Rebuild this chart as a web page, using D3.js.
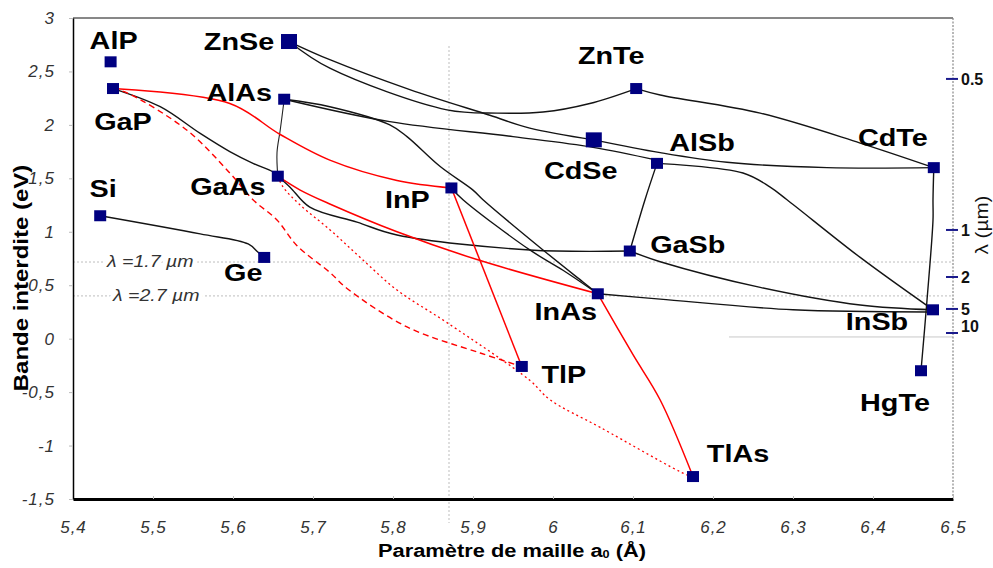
<!DOCTYPE html>
<html><head><meta charset="utf-8">
<script src="https://cdn.jsdelivr.net/npm/d3@7"></script>
<style>
body{margin:0;background:#fff;}
svg{display:block;font-family:"Liberation Sans",Arial,sans-serif;}
</style>
</head><body>
<svg id="chart" width="993" height="568"></svg>
<script>
// ---------- DATA ----------
const compounds = ["AlP","GaP","ZnSe","AlAs","GaAs","Si","Ge","InP","TlP","InAs","TlAs","ZnTe","CdSe","AlSb","GaSb","CdTe","InSb","HgTe"];
const latticeA  = [5.447,5.450,5.670,5.664,5.656,5.434,5.639,5.873,5.961,6.056,6.175,6.104,6.051,6.130,6.096,6.476,6.475,6.460];
const bandGap   = [2.59,2.34,2.78,2.24,1.52,1.15,0.76,1.41,-0.26,0.42,-1.29,2.34,1.86,1.64,0.82,1.60,0.27,-0.30];

const xTicks = [5.4,5.5,5.6,5.7,5.8,5.9,6.0,6.1,6.2,6.3,6.4,6.5];
const yTicks = [-1.5,-1,-0.5,0,0.5,1,1.5,2,2.5,3];

const lambdaLabels = ["0.5","1","2","5","10"];
const lambdaGap    = [2.43,1.017,0.577,0.278,0.053];

const refLabels = ["\u03bb =1.7 \u00b5m","\u03bb =2.7 \u00b5m"];
const refGap    = [0.717,0.40];
const refA      = 5.87;
const tenMicronGap = 0.016, tenMicronFrom = 6.22;

// curves: [lattice, gap] points
const SiGe    = [[5.434,1.15],[5.559,0.98],[5.619,0.886],[5.631,0.81],[5.639,0.76]];
const GaPGaAs = [[5.450,2.34],[5.509,2.17],[5.559,1.92],[5.596,1.75],[5.625,1.64],[5.650,1.56],[5.656,1.52]];
const AlAsGaAs= [[5.664,2.24],[5.659,1.95],[5.655,1.74],[5.656,1.52]];
const GaPInP  = [[5.450,2.34],[5.596,2.20],[5.659,1.91],[5.721,1.67],[5.805,1.48],[5.873,1.41]];
const GaPTlP  = [[5.450,2.34],[5.4675,2.30],[5.5425,1.95],[5.596,1.55],[5.625,1.30],[5.655,1.11],[5.68,0.87],[5.721,0.62],[5.7425,0.47],[5.8175,0.11],[5.909,-0.134],[5.961,-0.26]];
const GaAsTlAs= [[5.656,1.52],[5.6625,1.42],[5.684,1.25],[5.721,1.02],[5.759,0.76],[5.805,0.455],[5.8675,0.15],[5.971,-0.39],[5.996,-0.57],[6.059,-0.83],[6.1675,-1.275],[6.175,-1.29]];
const GaAsInAs= [[5.656,1.52],[5.684,1.39],[5.721,1.26],[5.805,1.00],[5.905,0.74],[6.056,0.42]];
const GaAsGaSb= [[5.656,1.52],[5.671,1.42],[5.696,1.23],[5.755,1.09],[5.805,0.97],[5.971,0.83],[6.096,0.82]];
const InPTlP  = [[5.873,1.41],[5.961,-0.26]];
const InPInAs = [[5.873,1.41],[5.8875,1.30],[5.971,0.83],[6.0125,0.64],[6.056,0.42]];
const AlAsInAs= [[5.664,2.24],[5.721,2.17],[5.796,2.00],[5.8175,1.89],[5.859,1.61],[5.90,1.39],[5.9125,1.30],[5.9875,0.83],[6.0375,0.53],[6.056,0.42]];
const InAsTlAs= [[6.056,0.42],[6.10,-0.15],[6.134,-0.574],[6.175,-1.29]];
const InAsInSb= [[6.056,0.42],[6.134,0.37],[6.30,0.27],[6.475,0.25]];
const GaSbInSb= [[6.096,0.82],[6.134,0.72],[6.259,0.48],[6.384,0.315],[6.475,0.27]];
const AlSbGaSb= [[6.130,1.64],[6.115,1.30],[6.096,0.82]];
const AlSbInSb= [[6.130,1.64],[6.2375,1.55],[6.271,1.42],[6.2925,1.30],[6.384,0.76],[6.475,0.27]];
const AlAsAlSb= [[5.664,2.24],[5.796,2.03],[5.95,1.89],[6.05,1.79],[6.130,1.67]];
const CdSeCdTe= [[6.051,1.86],[6.134,1.74],[6.2175,1.65],[6.3425,1.60],[6.476,1.60]];
const ZnSeCdSe= [[5.670,2.78],[5.721,2.61],[5.821,2.33],[5.921,2.09],[5.971,1.97],[6.051,1.86]];
const ZnSeZnTe= [[5.670,2.78],[5.721,2.53],[5.8675,2.14],[5.93,2.11],[5.9875,2.12],[6.046,2.20],[6.104,2.34]];
const ZnTeCdTe= [[6.104,2.34],[6.134,2.28],[6.259,2.11],[6.384,1.83],[6.476,1.60]];
const CdTeHgTe= [[6.476,1.60],[6.475,1.30],[6.475,1.11],[6.4675,0.36],[6.460,-0.30]];

const curves = [
  {pts:SiGe,kind:"black"},{pts:GaPGaAs,kind:"black"},{pts:AlAsGaAs,kind:"thin"},
  {pts:GaAsGaSb,kind:"black"},{pts:InPInAs,kind:"black"},{pts:AlAsInAs,kind:"black"},
  {pts:InAsInSb,kind:"black"},{pts:GaSbInSb,kind:"black"},{pts:AlSbGaSb,kind:"black"},
  {pts:AlSbInSb,kind:"black"},{pts:AlAsAlSb,kind:"black"},{pts:CdSeCdTe,kind:"black"},
  {pts:ZnSeCdSe,kind:"black"},{pts:ZnSeZnTe,kind:"black"},{pts:ZnTeCdTe,kind:"black"},
  {pts:CdTeHgTe,kind:"black"},
  {pts:GaPInP,kind:"red"},{pts:GaAsInAs,kind:"red"},{pts:InPTlP,kind:"red"},{pts:InAsTlAs,kind:"red"},
  {pts:GaPTlP,kind:"reddash"},{pts:GaAsTlAs,kind:"reddot"}
];

// ---------- STYLE / LAYOUT ----------
const L=73,R=953,T=18,B=499;
const x = d3.scaleLinear().domain([5.4,6.5]).range([L,R]);
const y = d3.scaleLinear().domain([-1.5,3]).range([B,T]);
const svg = d3.select("#chart");
const fmt = d => String(+d.toFixed(2)).replace(".",",");

const labelOffset = {AlP:[3,-21],GaP:[10,33],ZnSe:[-50,0],AlAs:[-45,-7],GaAs:[-50,10],Si:[3,-27],Ge:[-21,15],
  InP:[-44,11],TlP:[42,8],InAs:[-32,18],TlAs:[45,-23],ZnTe:[-25,-33],CdSe:[-13,31],AlSb:[45,-21],
  GaSb:[58,-7],CdTe:[-41,-30],InSb:[-56,12],HgTe:[-26,32]};
const bigMarker = new Set(["ZnSe","CdSe"]);

// reference lines
const grid = svg.append("g").attr("stroke","#bdbdbd").attr("stroke-width",1).attr("fill","none");
refGap.forEach(g=>{
  grid.append("line").attr("x1",L).attr("x2",R).attr("y1",y(g)).attr("y2",y(g)).attr("stroke-dasharray","2,2");
});
grid.append("line").attr("x1",x(refA)).attr("x2",x(refA)).attr("y1",46).attr("y2",523).attr("stroke-dasharray","2,2");
grid.append("line").attr("x1",x(tenMicronFrom)).attr("x2",R).attr("y1",y(tenMicronGap)).attr("y2",y(tenMicronGap)).attr("stroke","#c8c8c8");

// ref labels
refLabels.forEach((t,i)=>{
  svg.append("text").attr("transform",`translate(${i===0?107:113},${y(refGap[i])+5}) scale(1.15,1)`)
    .attr("font-style","italic").attr("font-size",17).attr("fill","#333")
    .attr("stroke","#fff").attr("stroke-width",8).attr("paint-order","stroke")
    .text(t);
});

// frame
svg.append("line").attr("x1",L).attr("x2",R).attr("y1",T).attr("y2",T).attr("stroke","#111").attr("stroke-width",1);
svg.append("line").attr("x1",R).attr("x2",R).attr("y1",T).attr("y2",B).attr("stroke","#888").attr("stroke-dasharray","2,1.5").attr("stroke-width",1.2);

// axes
const xa = svg.append("g").attr("transform",`translate(0,${B})`)
  .call(d3.axisBottom(x).tickValues(xTicks).tickFormat(fmt).tickSizeInner(-3).tickSizeOuter(0).tickPadding(22));
xa.select(".domain").attr("stroke","#000").attr("stroke-width",3);
xa.selectAll(".tick line").attr("stroke","#bbb");
xa.selectAll("text").attr("font-size",17).attr("letter-spacing",1).attr("font-style","italic").attr("fill","#333").attr("font-family","Liberation Sans, Arial");

const ya = svg.append("g").attr("transform",`translate(${L},0)`)
  .call(d3.axisLeft(y).tickValues(yTicks).tickFormat(fmt).tickSizeInner(4).tickSizeOuter(0).tickPadding(14));
ya.select(".domain").attr("stroke","#000").attr("stroke-width",1.5);
ya.selectAll(".tick line").attr("stroke","#bbb");
ya.selectAll("text").attr("font-size",17).attr("letter-spacing",1).attr("font-style","italic").attr("fill","#333").attr("font-family","Liberation Sans, Arial");

// right wavelength axis
const ra = svg.append("g");
lambdaGap.forEach((g,i)=>{
  ra.append("line").attr("x1",R-7).attr("x2",R+5).attr("y1",y(g)).attr("y2",y(g)).attr("stroke","#1a1a8c").attr("stroke-width",2);
  ra.append("text").attr("x",R+8).attr("y",y(g)+(lambdaLabels[i]==="10"?-1:6))
    .attr("font-size",16).attr("font-weight","bold").attr("fill","#111").text(lambdaLabels[i]);
});
svg.append("text").attr("transform","translate(988,225) rotate(-90) scale(1.15,1)").attr("text-anchor","middle")
  .attr("font-size",18).attr("fill","#111").text("\u03bb (\u00b5m)");

// curves
const line = d3.line().x(d=>x(d[0])).y(d=>y(d[1])).curve(d3.curveCatmullRom.alpha(0.5));
const styles = {
  black:{stroke:"#141414",w:1.4,dash:null},
  thin:{stroke:"#222",w:1.1,dash:null},
  red:{stroke:"#f00",w:1.5,dash:null},
  reddash:{stroke:"#f00",w:1.4,dash:"6,4"},
  reddot:{stroke:"#f00",w:1.3,dash:"2,3"}
};
svg.append("g").selectAll("path").data(curves).join("path")
  .attr("d",d=>line(d.pts)).attr("fill","none")
  .attr("stroke",d=>styles[d.kind].stroke).attr("stroke-width",d=>styles[d.kind].w)
  .attr("stroke-dasharray",d=>styles[d.kind].dash);

// markers
const pts = compounds.map((n,i)=>({n,a:latticeA[i],g:bandGap[i]}));
svg.append("g").selectAll("rect").data(pts).join("rect")
  .attr("x",d=>x(d.a)-(bigMarker.has(d.n)?8:6)).attr("y",d=>y(d.g)-(bigMarker.has(d.n)?7.5:5.5))
  .attr("width",d=>bigMarker.has(d.n)?16:12).attr("height",d=>bigMarker.has(d.n)?15:11)
  .attr("fill","#000080");

// compound labels
svg.append("g").selectAll("text").data(pts).join("text")
  .attr("transform",d=>`translate(${x(d.a)+labelOffset[d.n][0]},${y(d.g)+labelOffset[d.n][1]}) scale(1.2,1)`)
  .attr("text-anchor","middle").attr("dy","0.36em")
  .attr("font-size",24).attr("font-weight","bold").attr("fill","#000").text(d=>d.n);

// axis titles
svg.append("text").attr("transform","translate(28,278) rotate(-90) scale(1.2,1)").attr("text-anchor","middle")
  .attr("font-size",20).attr("font-weight","bold").attr("fill","#000").text("Bande interdite (eV)");
const xt = svg.append("text").attr("transform","translate(512,557) scale(1.15,1)").attr("text-anchor","middle")
  .attr("font-size",19).attr("font-weight","bold").attr("fill","#000");
xt.append("tspan").text("Param\u00e8tre de maille a");
xt.append("tspan").attr("font-size",11).attr("dy",1).text("0");
xt.append("tspan").attr("dy",-1).text(" (\u00c5)");
</script>
</body></html>
